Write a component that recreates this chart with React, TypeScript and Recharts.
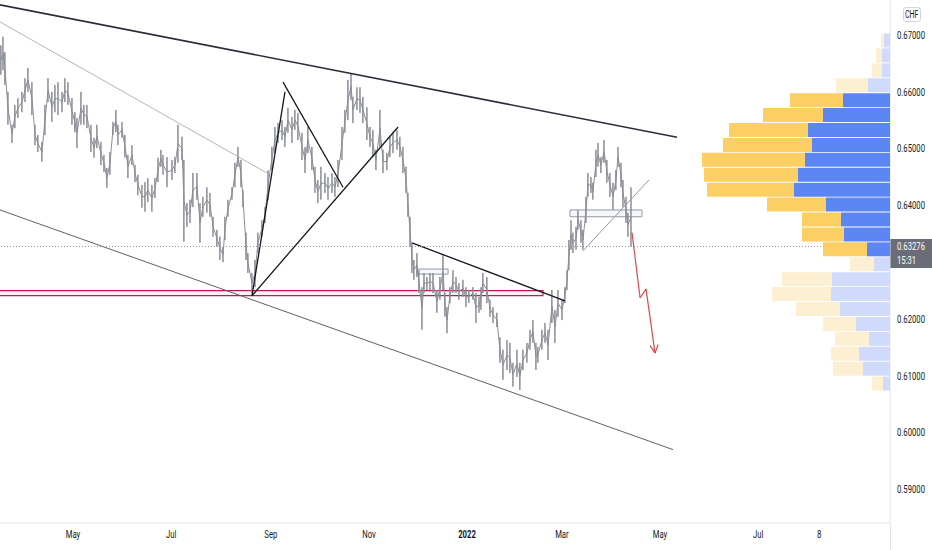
import React from 'react';
import {
  ComposedChart,
  BarChart,
  Bar,
  Line,
  XAxis,
  YAxis,
  ReferenceLine,
  ReferenceArea,
  Cell,
} from 'recharts';

// ---- price candles (day index from 2021-01-01, high, low) ----
const candles: [number, number, number][] = [
  [75.2, 0.6682, 0.663], [76.5, 0.6697, 0.6638], [77.7, 0.667, 0.6612], [79.6, 0.66, 0.6542],
  [82.1, 0.6542, 0.651], [83.9, 0.6577, 0.6536], [85.8, 0.6589, 0.6554], [88.3, 0.66, 0.6564],
  [90.2, 0.6624, 0.6582], [92.0, 0.6642, 0.66], [94.5, 0.6617, 0.6559], [96.4, 0.6542, 0.6506],
  [98.2, 0.6524, 0.6494], [100.7, 0.6512, 0.6477], [102.6, 0.6577, 0.6524], [104.5, 0.6624, 0.6582],
  [106.9, 0.66, 0.6547], [108.8, 0.6612, 0.6564], [110.7, 0.6617, 0.6559], [113.2, 0.66, 0.6564],
  [115.0, 0.6624, 0.6582], [116.9, 0.6617, 0.6577], [119.4, 0.6589, 0.6542], [121.2, 0.6564, 0.6529],
  [122.5, 0.6554, 0.6501], [125.0, 0.66, 0.6542], [126.8, 0.6577, 0.6542], [128.7, 0.6577, 0.6536],
  [131.2, 0.6542, 0.6494], [133.1, 0.6519, 0.6484], [134.9, 0.6542, 0.6501], [137.4, 0.6512, 0.6471],
  [139.3, 0.6489, 0.6459], [141.1, 0.6466, 0.6431], [143.0, 0.6494, 0.6454], [144.9, 0.6547, 0.6524],
  [146.7, 0.6568, 0.6529], [148.0, 0.6542, 0.6506], [150.5, 0.6547, 0.6519], [152.3, 0.6524, 0.6484],
  [154.2, 0.6489, 0.6448], [156.7, 0.6506, 0.6471], [158.6, 0.6471, 0.6441], [160.4, 0.6454, 0.6418],
  [162.9, 0.6436, 0.6396], [164.8, 0.6441, 0.6389], [166.6, 0.6448, 0.6406], [169.1, 0.6436, 0.6389],
  [171.0, 0.6448, 0.6413], [172.9, 0.6484, 0.6441], [174.7, 0.6498, 0.6468], [176.0, 0.6489, 0.6454],
  [178.5, 0.6485, 0.6432], [181.6, 0.648, 0.6445], [183.4, 0.6485, 0.6457], [185.3, 0.6542, 0.6475],
  [187.8, 0.6521, 0.648], [189.0, 0.648, 0.6336], [190.9, 0.6404, 0.6362], [192.8, 0.641, 0.6369],
  [194.6, 0.6457, 0.6397], [197.1, 0.6457, 0.641], [199.0, 0.6404, 0.6334], [200.8, 0.6415, 0.638],
  [203.3, 0.6432, 0.6387], [205.2, 0.6422, 0.638], [207.1, 0.638, 0.6345], [209.5, 0.6357, 0.6327],
  [211.4, 0.6345, 0.6304], [213.3, 0.6327, 0.63], [214.5, 0.638, 0.6339], [216.4, 0.641, 0.638],
  [218.9, 0.6432, 0.641], [220.7, 0.6475, 0.6432], [222.6, 0.6503, 0.6468], [224.5, 0.648, 0.6432],
  [225.7, 0.6427, 0.6397], [227.6, 0.6352, 0.6304], [228.8, 0.6316, 0.6281], [231.3, 0.6281, 0.6246],
  [233.2, 0.6304, 0.6256], [235.0, 0.6352, 0.6316], [237.5, 0.6374, 0.6345], [239.4, 0.6397, 0.6369],
  [241.3, 0.6462, 0.641], [243.7, 0.6503, 0.6462], [245.6, 0.6538, 0.6492], [247.5, 0.6545, 0.651],
  [250.0, 0.655, 0.6515], [251.8, 0.6538, 0.6503], [253.7, 0.6572, 0.6528], [256.2, 0.6556, 0.651],
  [258.0, 0.6568, 0.6533], [259.9, 0.6563, 0.6515], [262.4, 0.6528, 0.648], [264.3, 0.6503, 0.6457],
  [266.1, 0.6538, 0.6492], [268.6, 0.6503, 0.6462], [270.5, 0.6468, 0.6422], [272.3, 0.6445, 0.6404],
  [274.2, 0.6468, 0.641], [276.7, 0.6457, 0.6422], [278.6, 0.645, 0.641], [281.1, 0.6457, 0.6422],
  [282.9, 0.645, 0.6415], [284.8, 0.648, 0.6432], [287.3, 0.6538, 0.648], [289.1, 0.6568, 0.6528],
  [291.0, 0.6621, 0.655], [292.9, 0.6633, 0.6586], [294.1, 0.6591, 0.6545], [296.6, 0.6608, 0.6568],
  [298.5, 0.6608, 0.6563], [300.3, 0.6591, 0.6545], [302.8, 0.6573, 0.6515], [304.7, 0.6538, 0.6503],
  [306.5, 0.6533, 0.6485], [308.4, 0.6498, 0.6462], [310.9, 0.6568, 0.6503], [312.8, 0.6498, 0.6457],
  [315.2, 0.6492, 0.6462], [317.1, 0.6521, 0.6485], [319.0, 0.6528, 0.6492], [321.5, 0.6533, 0.6498],
  [323.3, 0.6521, 0.6485], [325.2, 0.6503, 0.6457], [327.1, 0.6468, 0.6422], [328.3, 0.6422, 0.638],
  [329.6, 0.638, 0.6327], [330.8, 0.6334, 0.6281], [332.0, 0.6304, 0.6269], [333.9, 0.6316, 0.6274],
  [335.1, 0.6286, 0.6246], [337.0, 0.6256, 0.6181], [338.3, 0.6281, 0.6246], [340.1, 0.6274, 0.6251],
  [342.0, 0.6281, 0.6251], [343.9, 0.6281, 0.6246], [346.3, 0.6251, 0.6211], [348.2, 0.6274, 0.6234],
  [350.1, 0.6313, 0.6251], [351.3, 0.6246, 0.6204], [352.6, 0.6221, 0.6175], [354.4, 0.6256, 0.6228],
  [356.3, 0.6286, 0.6246], [358.2, 0.6274, 0.6246], [360.0, 0.6263, 0.6234], [362.5, 0.6269, 0.6239],
  [364.4, 0.6256, 0.6221], [366.2, 0.6251, 0.6228], [368.7, 0.6256, 0.6234], [370.6, 0.6246, 0.6193],
  [372.5, 0.6239, 0.6211], [373.7, 0.6256, 0.6216], [374.9, 0.6281, 0.6246], [377.4, 0.6274, 0.6228],
  [379.3, 0.6234, 0.6204], [381.2, 0.6221, 0.6193], [383.6, 0.6211, 0.6186], [385.5, 0.6168, 0.6123],
  [387.4, 0.6146, 0.6093], [389.9, 0.6163, 0.611], [391.7, 0.6158, 0.6105], [393.6, 0.6123, 0.6081],
  [396.1, 0.6146, 0.6098], [397.9, 0.6123, 0.6075], [399.8, 0.6146, 0.611], [402.3, 0.6158, 0.6123],
  [404.2, 0.6181, 0.6146], [406.0, 0.6198, 0.6158], [407.9, 0.6158, 0.611], [409.1, 0.6151, 0.6123],
  [411.6, 0.6181, 0.6146], [413.5, 0.6193, 0.6158], [415.4, 0.6181, 0.6128], [417.8, 0.6251, 0.6193],
  [419.7, 0.6216, 0.6158], [421.6, 0.6251, 0.6204], [424.1, 0.6234, 0.6198], [425.9, 0.6256, 0.6228],
  [427.2, 0.6286, 0.6251], [428.4, 0.6339, 0.6286], [429.7, 0.6374, 0.6322], [430.9, 0.6352, 0.6316],
  [432.8, 0.6362, 0.6322], [434.0, 0.6392, 0.6357], [435.9, 0.6374, 0.6334], [437.1, 0.6357, 0.6322],
  [439.0, 0.6415, 0.6369], [440.2, 0.6457, 0.6415], [442.1, 0.645, 0.6422], [443.3, 0.644, 0.641],
  [445.2, 0.6498, 0.645], [446.5, 0.651, 0.6468], [448.3, 0.6485, 0.6457], [450.2, 0.6515, 0.6475],
  [452.0, 0.648, 0.644], [453.9, 0.6457, 0.6415], [455.8, 0.644, 0.6392], [457.6, 0.6462, 0.6427],
  [458.9, 0.6503, 0.6468], [460.8, 0.6475, 0.6432], [462.0, 0.6445, 0.6397], [463.9, 0.6415, 0.6369],
  [465.1, 0.6387, 0.6345], [467.0, 0.6432, 0.6327],
];

const priceTicks = [0.59, 0.6, 0.61, 0.62, 0.64, 0.65, 0.66, 0.67];
const dateTicks = [120, 181, 243, 304, 365, 424, 485, 546, 584];
const dateLabels = ['May', 'Jul', 'Sep', 'Nov', '2022', 'Mar', 'May', 'Jul', '8'];
const lastPrice = 0.63276;
const countdown = '15:31';
const currency = 'CHF';

// ---- drawings (day, price) ----
const channelTop: [number, number][] = [[74.61, 0.6753], [495.6, 0.652]];
const channelBottom: [number, number][] = [[74.61, 0.6392], [493.1, 0.597]];
const innerTrend: [number, number][] = [[74.61, 0.6723], [240.6, 0.6457]];
const swingLines: [number, number][][] = [
  [[231.3, 0.6241], [251.8, 0.66]],
  [[250.6, 0.6617], [287.9, 0.6432]],
  [[231.3, 0.6241], [322.1, 0.6538]],
  [[330.8, 0.6334], [425.9, 0.6232]],
];
const retestLine: [number, number][] = [[437.1, 0.632], [478.2, 0.6445]];
const projection: [number, number][] = [[467.6, 0.6352], [472.6, 0.6237], [476.3, 0.6253], [481.9, 0.614]];
const arrowWings: [number, number][] = [[478.8, 0.6153], [483.8, 0.6155]];
const supportZone = { x1: 70, x2: 412.2, y1: 0.6241, y2: 0.625 };
const grayBoxes = [
  { x1: 333.9, x2: 353.2, y1: 0.6279, y2: 0.6288 },
  { x1: 429.0, x2: 473.8, y1: 0.638, y2: 0.6392 },
];

// ---- volume profile rows (top to bottom) ----
const vpUp = [6, 8, 8, 22, 47, 67, 82, 78, 85, 92, 96, 64, 49, 46, 23, 16, 58, 59, 50, 34, 21, 31, 27, 7];
const vpDown = [3, 6, 10, 32, 53, 60, 79, 89, 103, 94, 87, 59, 39, 42, 44, 24, 50, 59, 44, 33, 34, 28, 30, 11];
const valueAreaFirst = 4;
const valueAreaLast = 14;

const candleData = candles.map(([day, high, low]) => ({ day, range: [low, high], mid: (high + low) / 2 }));
const vpData = vpUp.map((up, i) => ({ row: i, up, down: vpDown[i] }));

const FONT = 'Roboto, "Liberation Sans", sans-serif';
const SX = 0.7;
const CANDLE = '#8a8d96';

const CandleShape = (props: any) => {
  const { x, y, width, height } = props;
  if (x == null || y == null) return null;
  const cx = x + width / 2;
  const top = height < 0 ? y + height : y;
  const h = Math.max(Math.abs(height), 1);
  return <rect x={cx - 0.75} y={top} width={1.5} height={h} fill={CANDLE} />;
};

const PriceTick = (props: any) => {
  const { x, y, payload } = props;
  return (
    <text
      transform={`translate(${x},${y}) scale(${SX},1)`}
      dy="0.35em"
      fill="#131722"
      fontSize={11}
      fontFamily={FONT}
      textAnchor="start"
    >
      {Number(payload.value).toFixed(5)}
    </text>
  );
};

const DateTick = (props: any) => {
  const { x, y, payload } = props;
  const i = dateTicks.indexOf(payload.value);
  const label = i >= 0 ? dateLabels[i] : '';
  return (
    <text
      transform={`translate(${x},${y}) scale(${SX},1)`}
      dy="0.71em"
      fill="#131722"
      fontSize={11}
      fontFamily={FONT}
      textAnchor="middle"
      fontWeight={label === '2022' ? 700 : 400}
    >
      {label}
    </text>
  );
};

const PriceTag = (props: any) => {
  const vb = props.viewBox || {};
  const x = (vb.x || 0) + (vb.width || 0);
  const y = vb.y || 0;
  return (
    <g>
      <rect x={x} y={y - 7.5} width={42} height={29} fill="#6a6d78" />
      <text
        transform={`translate(${x + 7},${y}) scale(${SX},1)`}
        dy="0.35em"
        fill="#ffffff"
        fontSize={11}
        fontFamily={FONT}
      >
        {lastPrice.toFixed(5)}
      </text>
      <text
        transform={`translate(${x + 7},${y + 14}) scale(${SX},1)`}
        dy="0.35em"
        fill="#ffffff"
        fontSize={11}
        fontFamily={FONT}
      >
        {countdown}
      </text>
    </g>
  );
};

const seg = (a: [number, number], b: [number, number]) => [
  { x: a[0], y: a[1] },
  { x: b[0], y: b[1] },
];

export default function App() {
  const W = 932;
  const H = 550;
  return (
    <div style={{ position: 'relative', width: W, height: H, background: '#ffffff', overflow: 'hidden' }}>
      <style>{`body{margin:0;background:#fff;}`}</style>
      <div style={{ position: 'absolute', left: 0, top: 0 }}>
        <ComposedChart width={W} height={H} data={candleData} margin={{ top: 0, right: 0, left: 0, bottom: 0 }}>
          <XAxis
            dataKey="day"
            type="number"
            domain={[74.61, 628.0]}
            allowDataOverflow
            ticks={dateTicks}
            tick={<DateTick />}
            tickLine={false}
            tickSize={5}
            tickMargin={2}
            axisLine={{ stroke: '#e0e3eb' }}
            height={27}
            interval={0}
          />
          <YAxis
            orientation="right"
            type="number"
            domain={[0.584085, 0.676162]}
            allowDataOverflow
            ticks={priceTicks}
            tick={<PriceTick />}
            tickLine={false}
            tickSize={5}
            tickMargin={2}
            axisLine={{ stroke: '#e0e3eb' }}
            width={42}
            interval={0}
          />
          <ReferenceArea
            x1={supportZone.x1}
            x2={supportZone.x2}
            y1={supportZone.y1}
            y2={supportZone.y2}
            fill="#f8d7e3"
            fillOpacity={0.35}
            stroke="#c2185b"
            strokeWidth={1.2}
            ifOverflow="hidden"
          />
          <Line
            dataKey="mid"
            type="linear"
            stroke={CANDLE}
            strokeWidth={1}
            dot={false}
            isAnimationActive={false}
          />
          <Bar dataKey="range" barSize={2} shape={<CandleShape />} isAnimationActive={false} />
          {grayBoxes.map((b, i) => (
            <ReferenceArea
              key={'gb' + i}
              x1={b.x1}
              x2={b.x2}
              y1={b.y1}
              y2={b.y2}
              fill="#f0f3fa"
              fillOpacity={0.7}
              stroke="#9598a1"
              strokeWidth={1}
              ifOverflow="visible"
            />
          ))}
          <ReferenceLine segment={seg(channelTop[0], channelTop[1])} stroke="#2a2e39" strokeWidth={1.6} ifOverflow="visible" />
          <ReferenceLine segment={seg(channelBottom[0], channelBottom[1])} stroke="#5d606b" strokeWidth={1} ifOverflow="visible" />
          <ReferenceLine segment={seg(innerTrend[0], innerTrend[1])} stroke="#b2b5be" strokeWidth={1} ifOverflow="visible" />
          {swingLines.map((s, i) => (
            <ReferenceLine key={'sw' + i} segment={seg(s[0], s[1])} stroke="#131722" strokeWidth={1.3} ifOverflow="visible" />
          ))}
          <ReferenceLine segment={seg(retestLine[0], retestLine[1])} stroke="#9598a1" strokeWidth={1} ifOverflow="visible" />
          {projection.slice(1).map((p, i) => (
            <ReferenceLine key={'pj' + i} segment={seg(projection[i], p)} stroke="#e0474c" strokeWidth={1.2} ifOverflow="visible" />
          ))}
          {arrowWings.map((w, i) => (
            <ReferenceLine
              key={'aw' + i}
              segment={seg(w, projection[projection.length - 1])}
              stroke="#e0474c"
              strokeWidth={1.2}
              ifOverflow="visible"
            />
          ))}
          <ReferenceLine
            y={lastPrice}
            stroke="#9598a1"
            strokeDasharray="1 2"
            strokeWidth={1}
            label={<PriceTag />}
          />
        </ComposedChart>
      </div>
      <div style={{ position: 'absolute', left: 0, top: 0 }}>
        <BarChart
          width={W}
          height={H}
          data={vpData}
          layout="vertical"
          margin={{ top: 33, right: 42, bottom: 159, left: 0 }}
          barCategoryGap={0.5}
        >
          <XAxis type="number" domain={[0, 890]} reversed hide allowDataOverflow />
          <YAxis type="category" dataKey="row" hide />
          <Bar dataKey="up" stackId="vp" isAnimationActive={false}>
            {vpData.map((d, i) => (
              <Cell key={'u' + i} fill={i >= valueAreaFirst && i <= valueAreaLast ? '#5b86f3' : '#d0dbfb'} />
            ))}
          </Bar>
          <Bar dataKey="down" stackId="vp" isAnimationActive={false}>
            {vpData.map((d, i) => (
              <Cell key={'d' + i} fill={i >= valueAreaFirst && i <= valueAreaLast ? '#fbcf64' : '#fdf0d2'} />
            ))}
          </Bar>
        </BarChart>
      </div>
      <div style={{ position: 'absolute', left: 890, top: 523, width: 1, height: 27, background: '#e0e3eb' }} />
      <div
        style={{
          position: 'absolute',
          left: 903,
          top: 7,
          width: 18,
          height: 15,
          border: '1px solid #d1d4dc',
          borderRadius: 3,
          boxSizing: 'border-box',
          fontFamily: FONT,
          fontSize: 10,
          color: '#131722',
          display: 'flex',
          alignItems: 'center',
          justifyContent: 'center',
          background: '#fff',
          overflow: 'hidden',
        }}
      >
        <span style={{ display: 'inline-block', transform: `scaleX(${SX})` }}>{currency}</span>
      </div>
    </div>
  );
}
